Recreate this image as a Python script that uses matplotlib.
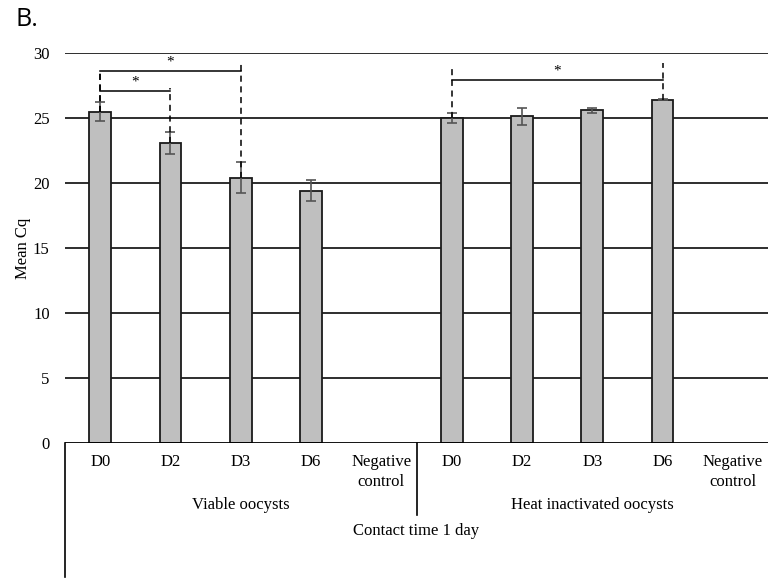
import numpy as np
import matplotlib.pyplot as plt

# data
categories = ['D0', 'D2', 'D3', 'D6', 'Negative\ncontrol',
              'D0', 'D2', 'D3', 'D6', 'Negative\ncontrol']
mean_cq = [25.5, 23.1, 20.4, 19.4, np.nan,
           25.0, 25.15, 25.6, 26.4, np.nan]
err = [0.75, 0.85, 1.2, 0.8, np.nan,
       0.4, 0.65, 0.2, 0.05, np.nan]
groups = ['Viable oocysts', 'Heat inactivated oocysts']
outer_label = 'Contact time 1 day'
# significance brackets: (left idx, right idx, bracket height, left top, right top)
sig_pairs = [(0, 1, 27.1, 28.5, 27.3),
             (0, 2, 28.6, 28.5, 29.3),
             (5, 8, 27.9, 28.8, 29.2)]

plt.rcParams['font.family'] = ['Liberation Serif', 'DejaVu Serif']

fig = plt.figure(figsize=(7.68, 5.85), dpi=100)
ax = fig.add_axes([65 / 768, 1 - 443 / 585, 1 - 65 / 768, 390 / 585])

x = np.arange(len(categories))
ax.bar(x, mean_cq, width=0.31, color='#bfbfbf', edgecolor='#1a1a1a', linewidth=1.3, zorder=3)
ax.errorbar(x, mean_cq, yerr=err, fmt='none', ecolor='#555555', elinewidth=1.2,
            capsize=3.5, capthick=1.2, zorder=4)

ax.set_xlim(-0.5, len(categories) - 0.5)
ax.set_ylim(0, 30)
ax.set_yticks(range(0, 31, 5))
for v in range(5, 31, 5):
    ax.axhline(v, color='black', linewidth=1.15, zorder=1)
ax.axhline(0, color='black', linewidth=1.3, zorder=5)

for s in ['top', 'right', 'left', 'bottom']:
    ax.spines[s].set_visible(False)
ax.tick_params(axis='y', length=0, pad=11, labelsize=12)
ax.tick_params(axis='x', length=0, pad=8, labelsize=12)
ax.set_xticks(x)
ax.set_xticklabels(categories, linespacing=1.35)
ax.set_ylabel('Mean Cq', fontsize=12)
ax.yaxis.set_label_coords(-0.048, 0.5)

# significance brackets
for i, j, h, top_i, top_j in sig_pairs:
    ax.plot([i, j], [h, h], color='black', linewidth=1.1, zorder=6)
    ax.plot([i, i], [mean_cq[i], top_i], color='black', linewidth=1.1,
            linestyle=(0, (4, 3)), zorder=6)
    ax.plot([j, j], [mean_cq[j], top_j], color='black', linewidth=1.1,
            linestyle=(0, (4, 3)), zorder=6)
    ax.text((i + j) / 2, h + 0.2, '*', ha='center', va='bottom', fontsize=11)

# group separators below the axis
tr = ax.get_xaxis_transform()
ax.plot([-0.5, -0.5], [0, -0.344], transform=tr, color='black', linewidth=1.2, clip_on=False)
ax.plot([4.5, 4.5], [0, -0.185], transform=tr, color='black', linewidth=1.2, clip_on=False)
ax.text(2.0, -0.158, groups[0], transform=tr, ha='center', va='center', fontsize=12)
ax.text(7.0, -0.158, groups[1], transform=tr, ha='center', va='center', fontsize=12)
ax.text(4.5, -0.225, outer_label, transform=tr, ha='center', va='center', fontsize=12)

fig.text(16 / 768, 1 - 20 / 585, 'B.', fontsize=18, family='Open Sans', va='center', ha='left')

fig.savefig('out.png', dpi=100)
